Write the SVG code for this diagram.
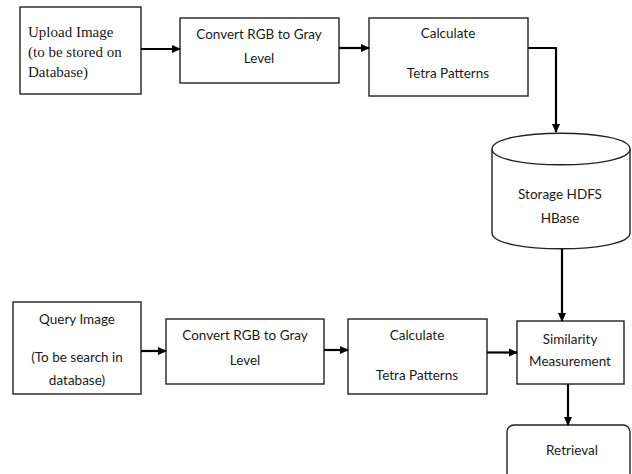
<svg xmlns="http://www.w3.org/2000/svg" width="632" height="474" viewBox="0 0 632 474">
<style>
.box{fill:#fff;stroke:#222;stroke-width:1.4}
.sans{font-family:Lato,"Open Sans",sans-serif;font-size:13.5px;fill:#1a1a1a;text-anchor:middle}
.serif{font-family:"Liberation Serif",serif;font-size:15px;fill:#1a1a1a}
.conn{fill:none;stroke:#000;stroke-width:2.2}
</style>
<defs>
<marker id="ah" markerUnits="userSpaceOnUse" markerWidth="9" markerHeight="9" viewBox="0 0 9 9" refX="8" refY="4.5" orient="auto">
<path d="M0,0.5 L9,4.5 L0,8.5 Z" fill="#000"/>
</marker>
</defs>
<rect width="632" height="474" fill="#fff"/>
<g id="upload">
<rect class="box" x="20" y="7" width="121" height="87"/>
<text class="serif" x="28" y="37">Upload Image</text>
<text class="serif" x="28" y="57">(to be stored on</text>
<text class="serif" x="28" y="77">Database)</text>
</g>
<g id="convert1">
<rect class="box" x="180" y="18" width="159" height="65"/>
<text class="sans" x="259" y="39">Convert RGB to Gray</text>
<text class="sans" x="259" y="63">Level</text>
</g>
<g id="calc1">
<rect class="box" x="369" y="18" width="159" height="78"/>
<text class="sans" x="448" y="38">Calculate</text>
<text class="sans" x="448" y="78">Tetra Patterns</text>
</g>
<g id="storage">
<path class="box" d="M492,149 C492,128 630,128 630,149 L630,233 C630,254 492,254 492,233 Z"/>
<path class="box" fill="none" d="M492,149 C492,170 630,170 630,149"/>
<text class="sans" x="560" y="199">Storage HDFS</text>
<text class="sans" x="560" y="223">HBase</text>
</g>
<g id="query">
<rect class="box" x="13" y="302" width="128" height="92"/>
<text class="sans" x="77" y="324">Query Image</text>
<text class="sans" x="77" y="362">(To be search in</text>
<text class="sans" x="77" y="385">database)</text>
</g>
<g id="convert2">
<rect class="box" x="166" y="319" width="158" height="65"/>
<text class="sans" x="245" y="340">Convert RGB to Gray</text>
<text class="sans" x="245" y="365">Level</text>
</g>
<g id="calc2">
<rect class="box" x="348" y="319" width="139" height="75"/>
<text class="sans" x="417" y="340">Calculate</text>
<text class="sans" x="417" y="380">Tetra Patterns</text>
</g>
<g id="similarity">
<rect class="box" x="517" y="321" width="107" height="63"/>
<text class="sans" x="570" y="344">Similarity</text>
<text class="sans" x="570" y="366">Measurement</text>
</g>
<g id="retrieval">
<rect class="box" x="507" y="425" width="123" height="60" rx="7"/>
<text class="sans" x="572" y="455">Retrieval</text>
</g>
<g id="connectors">
<path class="conn" d="M141,49 H180" marker-end="url(#ah)"/>
<path class="conn" d="M339,48 H369" marker-end="url(#ah)"/>
<path class="conn" d="M528,48 H556 V132" marker-end="url(#ah)"/>
<path class="conn" d="M562,249 V321" marker-end="url(#ah)"/>
<path class="conn" d="M141,351 H166" marker-end="url(#ah)"/>
<path class="conn" d="M324,350 H348" marker-end="url(#ah)"/>
<path class="conn" d="M487,352.5 H517" marker-end="url(#ah)"/>
<path class="conn" d="M568,384 V425" marker-end="url(#ah)"/>
</g>
</svg>
